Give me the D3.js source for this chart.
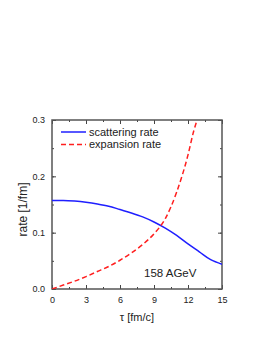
<!DOCTYPE html>
<html>
<head>
<meta charset="utf-8">
<script src="https://cdn.jsdelivr.net/npm/d3@7"></script>
<style>
body { margin: 0; background: #fff; }
text { font-family: "Liberation Sans", Arial, sans-serif; fill: #222; }
</style>
</head>
<body>
<script>
var tau = [0, 1, 2, 3, 4, 5, 6, 7, 8, 9, 10, 11, 12, 13, 14, 15];
var scattering = [0.157, 0.157, 0.156, 0.154, 0.151, 0.147, 0.141, 0.135, 0.128, 0.119, 0.108, 0.095, 0.080, 0.066, 0.052, 0.044];
var tauExp = [0, 1, 2, 3, 4, 5, 6, 7, 8, 9, 10, 11, 12, 12.5, 12.8];
var expansion = [0, 0.007, 0.014, 0.022, 0.031, 0.040, 0.051, 0.064, 0.079, 0.098, 0.125, 0.172, 0.238, 0.28, 0.30];
var xTicks = [0, 3, 6, 9, 12, 15];
var yTicks = [0.0, 0.1, 0.2, 0.3];
var seriesNames = ['scattering rate', 'expansion rate'];

var margin = { top: 120, right: 40, bottom: 50, left: 52 };
var width = 222 - margin.left;
var height = 289 - margin.top;

var x = d3.scaleLinear().domain([0, 15]).range([0, width]);
var y = d3.scaleLinear().domain([0, 0.3]).range([height, 0]);

var svg = d3.select('body').append('svg')
	.attr('width', 262)
	.attr('height', 339)
	.append('g')
		.attr('transform', 'translate(' + margin.left + ',' + margin.top + ')');

svg.append('defs').append('clipPath').attr('id', 'clip')
	.append('rect').attr('width', width).attr('height', height);

function styleAxis(g) {
	g.selectAll('.domain').remove();
	g.selectAll('line').attr('stroke', '#444').attr('stroke-width', 1);
	g.selectAll('text').attr('font-size', '9px').attr('fill', '#222');
}

var xMinor = d3.range(0, 15.01, 1.5);
var yMinor = d3.range(0, 0.301, 0.05);

// bottom axis
svg.append('g')
	.attr('transform', 'translate(0,' + height + ')')
	.call(d3.axisBottom(x).tickValues(xMinor).tickSize(-2).tickFormat(''))
	.call(styleAxis);
svg.append('g')
	.attr('transform', 'translate(0,' + height + ')')
	.call(d3.axisBottom(x).tickValues(xTicks).tickSize(-4).tickPadding(8).tickFormat(d3.format('d')))
	.call(styleAxis);
// top axis
svg.append('g')
	.call(d3.axisTop(x).tickValues(xMinor).tickSize(-2).tickFormat(''))
	.call(styleAxis);
svg.append('g')
	.call(d3.axisTop(x).tickValues(xTicks).tickSize(-4).tickFormat(''))
	.call(styleAxis);
// left axis
svg.append('g')
	.call(d3.axisLeft(y).tickValues(yMinor).tickSize(-2).tickFormat(''))
	.call(styleAxis);
svg.append('g')
	.call(d3.axisLeft(y).tickValues(yTicks).tickSize(-4).tickPadding(7).tickFormat(d3.format('.1f')))
	.call(styleAxis);
// right axis
svg.append('g')
	.attr('transform', 'translate(' + width + ',0)')
	.call(d3.axisRight(y).tickValues(yMinor).tickSize(-2).tickFormat(''))
	.call(styleAxis);
svg.append('g')
	.attr('transform', 'translate(' + width + ',0)')
	.call(d3.axisRight(y).tickValues(yTicks).tickSize(-4).tickFormat(''))
	.call(styleAxis);

svg.append('rect')
	.attr('width', width)
	.attr('height', height)
	.attr('fill', 'none')
	.attr('stroke', '#555')
	.attr('stroke-width', 1.5);

var line = d3.line()
	.curve(d3.curveMonotoneX)
	.x(function(d) { return x(d[0]); })
	.y(function(d) { return y(d[1]); });

svg.append('path')
	.datum(d3.zip(tau, scattering))
	.attr('clip-path', 'url(#clip)')
	.attr('fill', 'none')
	.attr('stroke', '#1f1fff')
	.attr('stroke-width', 1.5)
	.attr('d', line);

svg.append('path')
	.datum(d3.zip(tauExp, expansion))
	.attr('clip-path', 'url(#clip)')
	.attr('fill', 'none')
	.attr('stroke', '#ff1f1f')
	.attr('stroke-width', 1.5)
	.attr('stroke-dasharray', '5,3')
	.attr('d', line);

// legend
var legend = svg.append('g').attr('transform', 'translate(9,12)');
var colors = ['#1f1fff', '#ff1f1f'];
var dashes = [null, '5,3'];
seriesNames.forEach(function(name, i) {
	var g = legend.append('g').attr('transform', 'translate(0,' + (i * 12.5) + ')');
	g.append('line')
		.attr('x1', 0).attr('x2', 25)
		.attr('stroke', colors[i])
		.attr('stroke-width', 1.5)
		.attr('stroke-dasharray', dashes[i]);
	g.append('text')
		.attr('x', 28)
		.attr('dy', '0.35em')
		.attr('font-size', '11px')
		.text(name);
});

svg.append('text')
	.attr('x', 92)
	.attr('y', 157)
	.attr('font-size', '11.5px')
	.text('158 AGeV');

svg.append('text')
	.attr('x', width / 2)
	.attr('y', height + 32)
	.attr('text-anchor', 'middle')
	.attr('font-size', '11px')
	.text('τ [fm/c]');

svg.append('text')
	.attr('transform', 'rotate(-90)')
	.attr('x', -(height / 2 + 5))
	.attr('y', -25)
	.attr('text-anchor', 'middle')
	.attr('font-size', '12px')
	.text('rate [1/fm]');
</script>
</body>
</html>
